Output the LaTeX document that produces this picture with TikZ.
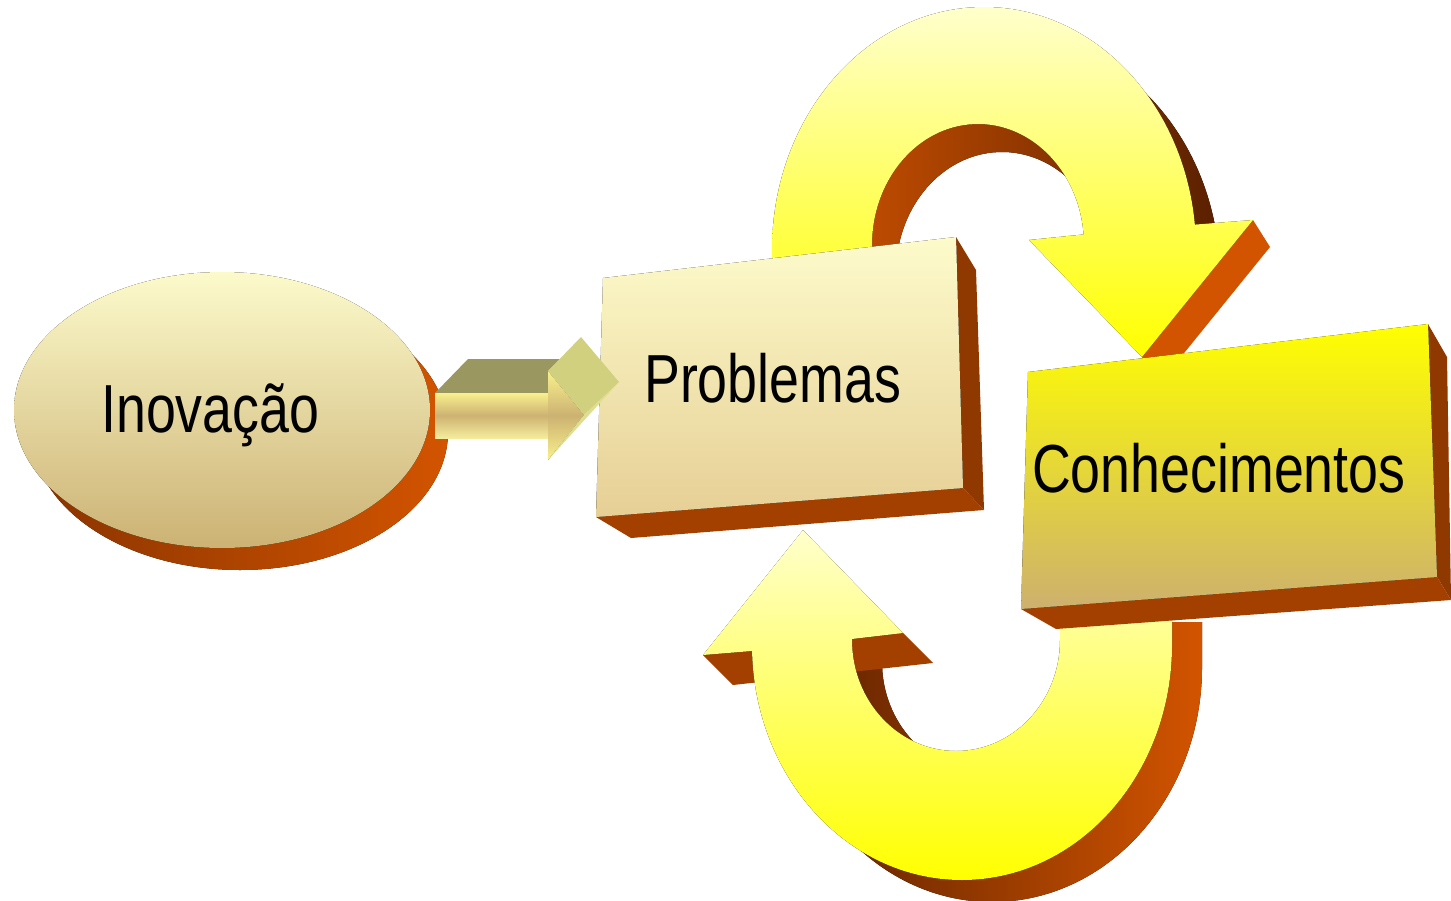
\documentclass[tikz,border=0pt]{standalone}
\usepackage{fontspec}
\setmainfont{Liberation Sans}
\usepackage{graphicx}
\definecolor{lightyel}{HTML}{FFFFCC}
\definecolor{pureyel}{HTML}{FFFF00}
\definecolor{ellTop}{HTML}{FCFACB}
\definecolor{ellBot}{HTML}{CCB274}
\definecolor{probTop}{HTML}{FDFBCB}
\definecolor{probBot}{HTML}{E6CF95}
\definecolor{conhBot}{HTML}{CDB06E}
\definecolor{sideR}{HTML}{8F3800}
\definecolor{botF}{HTML}{A34000}
\definecolor{orangeE}{HTML}{D25400}
\definecolor{darkE}{HTML}{5A2000}
\definecolor{extL}{HTML}{8A3400}
\definecolor{olive}{HTML}{9A9860}
\definecolor{headTop}{HTML}{D0D07E}
\definecolor{headLow}{HTML}{DEDE90}
\definecolor{shaftTop}{HTML}{F8F08C}
\definecolor{shaftMid}{HTML}{CDB272}
\definecolor{shaftBot}{HTML}{F4EC9C}
\tikzset{
  lbl/.style={anchor=base west, inner sep=0pt, font=\fontsize{68}{80}\selectfont, text=black},
  sideface/.style={fill=sideR},
  botface/.style={fill=botF},
}
\begin{document}
\begin{tikzpicture}[x=1pt,y=-1pt]
\useasboundingbox (0,0) rectangle (1451,900);

% ---------- top arch: back face (extrusion) ----------
\fill[left color=orangeE, right color=darkE, shift={(24,28)}]
  (772,300) -- (772,250) arc[start angle=180,end angle=354,x radius=212,y radius=243]
  -- (1083.6,234.45) arc[start angle=355,end angle=180,x radius=106,y radius=121]
  -- (872,300) -- cycle;
% arrowhead side
\fill[orangeE] (1253,220) -- (1270,247) -- (1159,384) -- (1142,357) -- cycle;
% front face
\fill[top color=lightyel, bottom color=pureyel]
  (772,300) -- (772,250) arc[start angle=180,end angle=354,x radius=212,y radius=243]
  -- (1253,220) -- (1142,357) -- (1029,240)
  -- (1083.6,234.45) arc[start angle=355,end angle=180,x radius=106,y radius=121]
  -- (872,300) -- cycle;

% ---------- bottom arch ----------
\fill[left color=darkE, right color=orangeE, shift={(30,22)}]
  (852,630) -- (852,640) arc[start angle=180,end angle=0,x radius=104,y radius=111]
  -- (1060,600) -- (1172,600) -- (1172,645)
  arc[start angle=0,end angle=180,x radius=210,y radius=235] -- (752,630) -- cycle;
\fill[botF] (703,655) -- (903,633) -- (933,663) -- (733,685) -- cycle;
\fill[top color=lightyel, bottom color=pureyel]
  (703,655) -- (803,530) -- (903,633) -- (852,639)
  -- (852,640) arc[start angle=180,end angle=0,x radius=104,y radius=111]
  -- (1060,600) -- (1172,600) -- (1172,645)
  arc[start angle=0,end angle=180,x radius=210,y radius=235] -- (752,651) -- cycle;

% ---------- Problemas box ----------
\fill[sideface] (956,237) -- (976,270) -- (984,510) -- (963,488) -- cycle;
\fill[botface] (596,517) -- (963,488) -- (984,510) -- (631,538) -- cycle;
\fill[top color=probTop, bottom color=probBot] (603,278) -- (956,237) -- (963,488) -- (596,517) -- cycle;

% ---------- Conhecimentos box ----------
\fill[sideface] (1428,324) -- (1447,357) -- (1451,600) -- (1437,577) -- cycle;
\fill[botface] (1021,609) -- (1437,577) -- (1451,600) -- (1056,629) -- cycle;
\fill[top color=pureyel, bottom color=conhBot] (1028,372) -- (1428,324) -- (1437,577) -- (1021,609) -- cycle;

% ---------- Inovacao ellipse ----------
\fill[left color=extL, right color=orangeE] (240,432) ellipse[x radius=208, y radius=138];
\fill[top color=ellTop, bottom color=ellBot] (222,410) ellipse[x radius=208, y radius=138];

% ---------- small arrow ----------
\fill[olive] (435,393) -- (468,359) -- (560,359) -- (548,371) -- (548,393) -- cycle;
\fill[top color=shaftTop, bottom color=shaftBot, middle color=shaftMid] (435,393) rectangle (548,438);
\fill[top color=shaftTop, bottom color=shaftTop, middle color=shaftMid] (548,371) -- (584,415) -- (548,460) -- cycle;
\fill[headTop] (548,371) -- (581,337) -- (619,382) -- (584,415) -- cycle;
\fill[headLow] (584,415) -- (619,382) -- (548,460) -- cycle;

% ---------- labels ----------
\node[lbl] (tInov) at (101,432) {\scalebox{0.79}[1]{Inovação}};
\node[lbl] (tProb) at (644,402) {\scalebox{0.79}[1]{Problemas}};
\node[lbl] (tConh) at (1032,492) {\scalebox{0.79}[1]{Conhecimentos}};
\end{tikzpicture}
\end{document}
